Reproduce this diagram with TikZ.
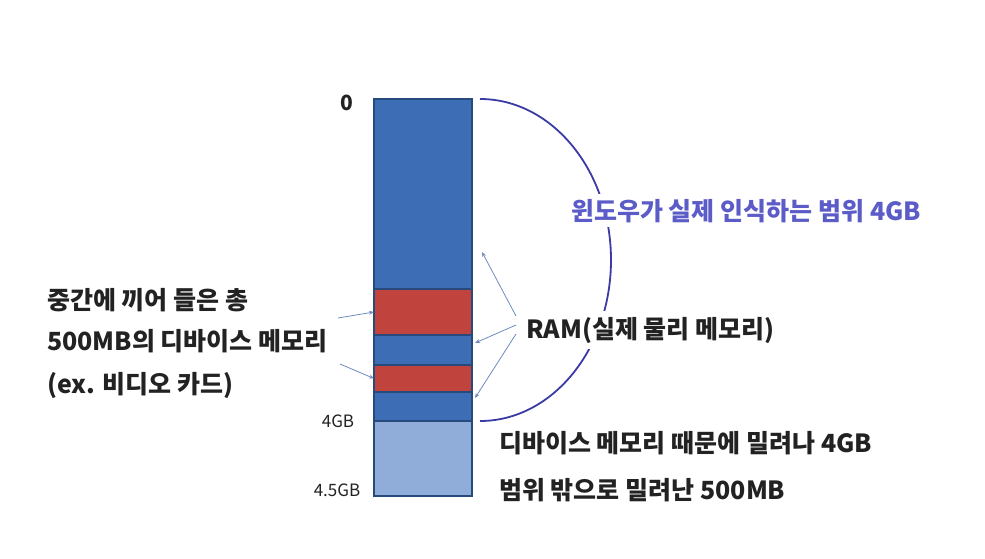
\documentclass[tikz,border=0pt]{standalone}
\usepackage{fontspec}
\usepackage{tikz}
\usetikzlibrary{arrows.meta,positioning}
\newfontfamily\kofont{Noto Sans CJK KR}
\definecolor{ramblue}{HTML}{3D6DB4}
\definecolor{devred}{HTML}{C1433E}
\definecolor{outblue}{HTML}{8FADD8}
\definecolor{barline}{HTML}{274A7C}
\definecolor{arcblue}{HTML}{3B3BA6}
\definecolor{wintext}{HTML}{5C5CC8}
\definecolor{ptrgray}{HTML}{6E8CBE}
\definecolor{txtdark}{HTML}{222222}

\tikzset{
  seg/.style={draw=barline, line width=1.1pt, minimum width=98pt,
              anchor=north west, inner sep=0pt, outer sep=0pt},
  lbl/.style={font=\kofont\bfseries\fontsize{25}{29}\selectfont,
              text=txtdark, inner sep=2pt},
  addr/.style={font=\kofont\fontsize{17}{19}\selectfont, text=txtdark},
  ptr/.style={draw=ptrgray, line width=0.8pt,
              -{Stealth[length=5pt,width=4pt]}},
}

\begin{document}
\begin{tikzpicture}[x=1pt, y=-1pt]
  \useasboundingbox[fill=white] (0,0) rectangle (985,559);

  %% memory bar, top to bottom
  \node[seg, fill=ramblue, minimum height=190pt] (top) at (374,99) {};
  \node[seg, fill=devred, minimum height=46pt] (dev1) at (374,289) {};
  \node[seg, fill=ramblue, minimum height=30pt] (mid) at (374,335) {};
  \node[seg, fill=devred, minimum height=27pt] (dev2) at (374,365) {};
  \node[seg, fill=ramblue, minimum height=29pt] (low) at (374,392) {};
  \node[seg, fill=outblue, minimum height=75pt] (out) at (374,421) {};

  %% addresses
  \node[font=\kofont\bfseries\fontsize{21}{24}\selectfont, text=txtdark]
    (zero) at (347,103) {0};
  \node[addr] (four) at (338,421) {4GB};
  \node[addr] (fourhalf) at (337,490) {4.5GB};

  %% range seen by windows
  \coordinate (arcstart) at (480,99);
  \draw[arcblue, line width=1.8pt] (arcstart)
    arc[start angle=-90, end angle=90, x radius=131, y radius=161];
  \node[lbl, text=wintext, fill=white, anchor=base west, inner sep=5pt]
    (win) at (566,220) {윈도우가 실제 인식하는 범위 4GB};

  %% RAM label and pointers
  \node[lbl, fill=white, anchor=base west, inner sep=6pt]
    (ram) at (520,338) {RAM(실제 물리 메모리)};
  \coordinate (rfrom1) at (516,316);
  \coordinate (rfrom2) at (516,325);
  \coordinate (rfrom3) at (516,334);
  \coordinate (rto1) at (482,252);
  \coordinate (rto2) at (475,343);
  \coordinate (rto3) at (475,398);
  \draw[ptr] (rfrom1) -- (rto1);
  \draw[ptr] (rfrom2) -- (rto2);
  \draw[ptr] (rfrom3) -- (rto3);

  %% device memory label
  \node[lbl, anchor=base west] (dline1) at (45,309) {중간에 끼어 들은 총};
  \node[lbl, anchor=base west] (dline2) at (45,350) {500MB의 디바이스 메모리};
  \node[lbl, anchor=base west] (dline3) at (45,393) {(ex. 비디오 카드)};
  \coordinate (dfrom1) at (338,318);
  \coordinate (dfrom2) at (340,364);
  \draw[ptr] (dfrom1) -- (dev1.west);
  \draw[ptr] (dfrom2) -- (dev2.west);

  %% pushed out part
  \node[lbl, anchor=base west] (push1) at (497,452) {디바이스 메모리 때문에 밀려나 4GB};
  \node[lbl, anchor=base west] (push2) at (497,499) {범위 밖으로 밀려난 500MB};
\end{tikzpicture}
\end{document}
